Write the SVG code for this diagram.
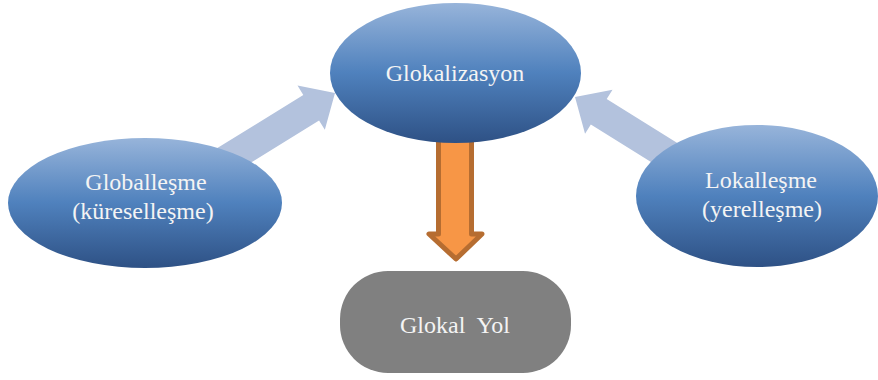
<svg xmlns="http://www.w3.org/2000/svg" width="878" height="380" viewBox="0 0 878 380">
  <defs>
    <linearGradient id="blueGrad" x1="0" y1="0" x2="0" y2="1">
      <stop offset="0" stop-color="#97b4da"/>
      <stop offset="0.5" stop-color="#4f81bd"/>
      <stop offset="1" stop-color="#2e5185"/>
    </linearGradient>
    <style>
      .ell { fill: url(#blueGrad); }
      .lbl { font-family: "Liberation Serif", "Times New Roman", serif; font-size: 24px; fill: #f4f4f4; text-anchor: middle; }
      .blueArrow { fill: #b3c2dd; }
      .orangeArrow { fill: #f79646; stroke: #b66d31; stroke-width: 5; stroke-linejoin: round; }
    </style>
  </defs>
  <rect width="878" height="380" fill="#ffffff"/>

  <g id="connectors">
    <polygon class="blueArrow" transform="translate(335,93) rotate(-31.7)" points="-140,-15 -28,-15 -28,-26 0,0 -28,26 -28,15 -140,15"/>
    <polygon class="blueArrow" transform="translate(575,97) rotate(211.9)" points="-140,-15 -28,-15 -28,-26 0,0 -28,26 -28,15 -140,15"/>
    <polygon class="orangeArrow" points="438.5,125 471.5,125 471.5,234 482,234 456,259 429,234 438.5,234"/>
  </g>

  <g id="node-globallesme">
    <ellipse class="ell" cx="145" cy="203" rx="137" ry="65"/>
    <text class="lbl" x="146" y="190">Globalleşme</text>
    <text class="lbl" x="143" y="219">(küreselleşme)</text>
  </g>

  <g id="node-lokallesme">
    <ellipse class="ell" cx="757" cy="196" rx="121" ry="71"/>
    <text class="lbl" x="761" y="188">Lokalleşme</text>
    <text class="lbl" x="762" y="217">(yerelleşme)</text>
  </g>

  <g id="node-glokalizasyon">
    <ellipse class="ell" cx="455.5" cy="73" rx="125.5" ry="70"/>
    <text class="lbl" x="455" y="81">Glokalizasyon</text>
  </g>

  <g id="node-glokal-yol">
    <rect x="340" y="271" width="231" height="102" rx="48" ry="48" fill="#808080"/>
    <text class="lbl" x="455" y="333" xml:space="preserve">Glokal  Yol</text>
  </g>
</svg>
